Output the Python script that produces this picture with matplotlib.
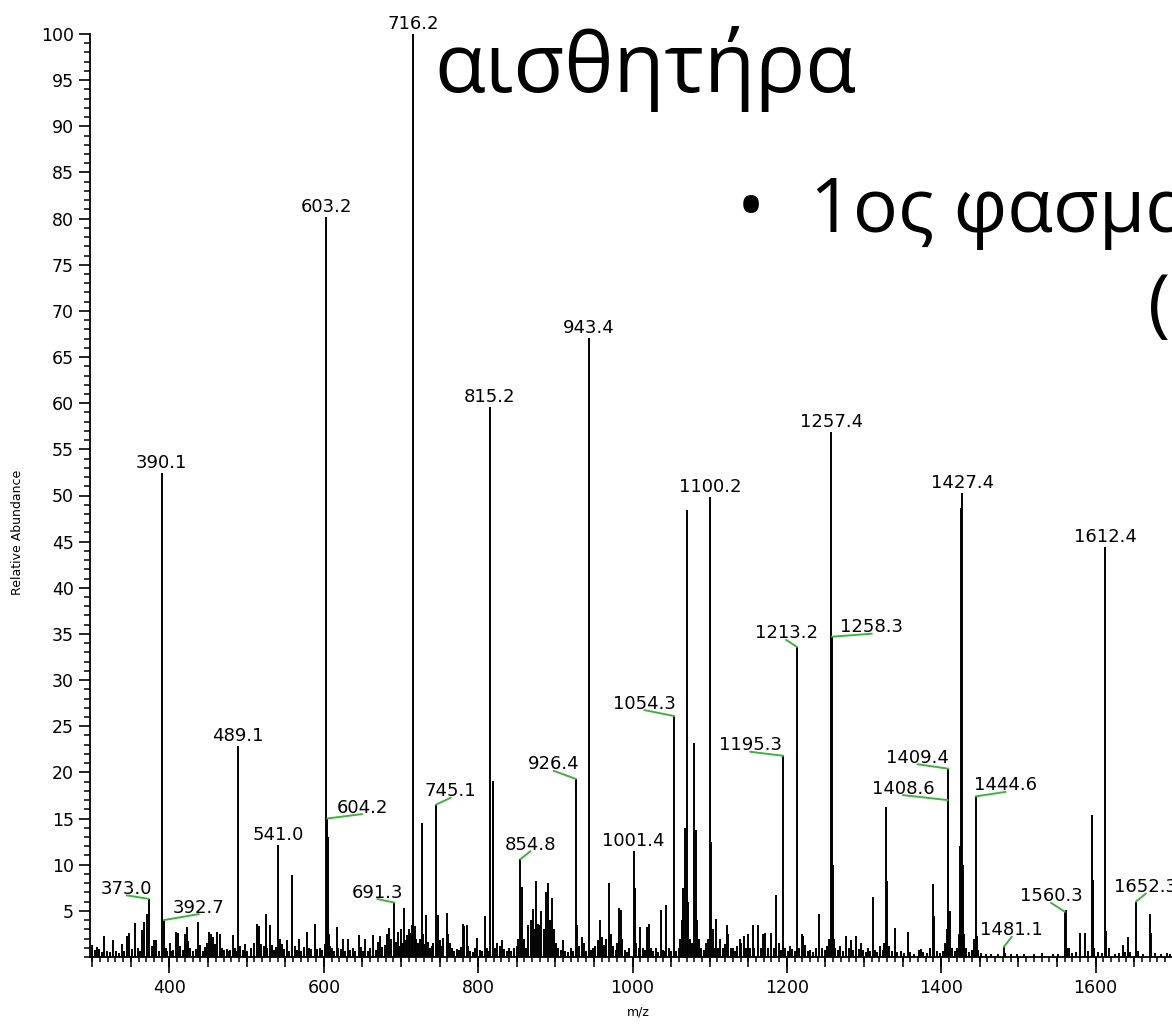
import matplotlib
matplotlib.use("Agg")
import matplotlib.pyplot as plt
from matplotlib.ticker import MultipleLocator, FixedLocator

# ---------------- data ----------------
labelled_mz = [373.0, 390.1, 392.7, 489.1, 541.0, 603.2, 604.2, 691.3, 716.2, 745.1,
               815.2, 854.8, 926.4, 943.4, 1001.4, 1054.3, 1100.2, 1195.3, 1213.2,
               1257.4, 1258.3, 1408.6, 1409.4, 1427.4, 1444.6, 1481.1, 1560.3,
               1612.4, 1652.3]
labelled_int = [6.3, 52.4, 4.0, 22.9, 12.1, 80.2, 15.0, 5.9, 100.0, 16.5,
                59.6, 10.6, 19.3, 67.1, 11.5, 26.1, 49.8, 21.8, 33.6,
                56.9, 34.7, 17.0, 20.4, 50.3, 17.4, 1.1, 4.9,
                44.4, 6.0]

other_mz = [300, 303, 305.7, 309, 312, 315.5, 319, 323, 327, 331, 334, 338, 341, 344.5,
            347.5, 351, 355.7, 359, 362, 364, 367, 371, 377, 380, 383, 386, 395, 397,
            400.6, 403, 405, 408, 411.4, 414, 417, 420, 423, 424.5, 427, 430, 434, 437,
            440, 443, 446, 448, 451.6, 454, 456.8, 459, 461, 465, 468, 471, 474, 477,
            479, 482, 485, 487, 492, 495, 498,
            501, 505, 509, 513, 516.5, 519, 522, 524.6, 527, 530, 533, 536, 538, 543,
            546, 549, 552, 555, 559, 562, 565, 568, 571, 574, 578, 581, 584, 588.5,
            591, 595, 598, 601,
            603.8, 604.8, 605.5, 606.5, 608, 611, 613, 616.6, 619, 622, 625, 628, 631,
            634, 638, 641, 645, 648, 651, 654, 657, 660, 664, 667, 670, 673, 676, 679,
            682, 684, 687, 693, 696, 698, 700,
            702, 704, 706, 708, 710, 712, 714, 718, 720, 722, 724, 727.5, 729, 731,
            733, 735, 737, 740, 742, 748.4, 750, 752, 755, 759, 761, 763, 766, 769,
            772, 775, 778, 780.7, 782, 785, 787, 790, 793, 796, 799, 802,
            805, 809, 811, 813, 819, 822, 825, 828, 831, 834, 837, 840, 843, 847, 850,
            852, 857, 859, 862, 865, 868, 871, 873, 875, 877, 880, 882, 885, 888, 891,
            893, 896, 898, 901, 904, 907, 910, 913, 916, 920, 923,
            928, 931, 934, 937, 940, 946, 949, 952, 955, 958, 960, 963, 966, 969, 972,
            975, 978, 980, 982.5, 985, 987, 990, 993, 996, 1003, 1005, 1008,
            1010, 1013, 1016, 1019, 1021, 1024, 1027, 1030, 1033, 1036.5, 1039, 1042,
            1044, 1047, 1050, 1057, 1060, 1062, 1064, 1066, 1068, 1070, 1072, 1074,
            1077, 1080, 1082, 1084, 1086, 1089, 1092, 1095, 1098, 1102, 1104, 1106,
            1108, 1111, 1114, 1117, 1120, 1122, 1124, 1127, 1130, 1133, 1136, 1139,
            1141, 1144, 1147, 1150, 1152, 1156, 1158, 1162, 1166, 1169, 1171.7, 1175,
            1180, 1183, 1186, 1190, 1193, 1198,
            1201, 1204, 1207, 1210, 1216, 1219, 1221, 1224, 1227, 1230, 1234, 1238,
            1242, 1245, 1249, 1252, 1255, 1259.5, 1261, 1263, 1266, 1269, 1273, 1277,
            1280, 1283, 1286, 1290, 1293, 1296, 1299,
            1302, 1305, 1308, 1311, 1314, 1317, 1321, 1324, 1326, 1328.5, 1330, 1332,
            1336, 1340, 1343, 1348, 1352, 1357, 1360, 1365, 1371, 1374, 1377, 1381,
            1386, 1389, 1391, 1394, 1398,
            1402, 1405, 1407, 1411, 1414, 1418, 1421, 1423, 1424.5, 1425.5, 1428.5,
            1430, 1432, 1436, 1440, 1442, 1446, 1448, 1452, 1458, 1465, 1473, 1483,
            1490, 1498,
            1507, 1520, 1531, 1545, 1552, 1561.5, 1563, 1566, 1570, 1575, 1580, 1586,
            1590, 1595, 1596.5, 1598, 1603, 1608, 1614, 1617, 1625, 1631, 1635, 1638,
            1642, 1645, 1655, 1662, 1670.6, 1672, 1677, 1685, 1692, 1697]
other_int = [1.3, 0.8, 1.1, 0.9, 0.5, 2.3, 0.6, 0.5, 1.8, 0.7, 0.4, 1.4, 0.6, 2.3,
             2.6, 0.9, 3.7, 1.0, 0.6, 2.9, 3.8, 4.7, 1.2, 1.8, 1.8, 0.7, 1.0, 0.6,
             1.5, 0.6, 0.8, 2.7, 2.6, 1.2, 0.8, 2.5, 3.2, 1.7, 1.0, 0.6, 0.9, 3.8,
             1.3, 0.7, 1.1, 1.5, 2.7, 2.5, 2.2, 1.4, 2.7, 2.5, 1.0, 0.8, 0.9, 0.7,
             0.8, 2.4, 1.0, 0.6, 1.2, 0.8, 1.4,
             0.7, 1.0, 1.5, 3.6, 3.4, 1.4, 1.2, 4.7, 1.0, 3.5, 1.3, 0.8, 1.1, 2.0,
             1.4, 0.9, 1.8, 0.7, 8.9, 1.2, 0.8, 1.9, 0.7, 1.1, 2.7, 1.0, 0.9, 3.6,
             0.9, 1.0, 0.8, 1.4,
             14.0, 13.0, 5.0, 2.5, 1.2, 1.0, 0.6, 3.2, 1.0, 0.9, 1.9, 0.7, 1.9,
             0.8, 1.0, 0.6, 2.4, 1.1, 0.6, 1.9, 0.7, 1.0, 2.4, 0.8, 1.6, 2.3, 1.1, 1.3,
             2.5, 3.1, 1.9, 1.6, 2.7, 1.2, 3.0,
             1.5, 5.3, 1.8, 2.4, 3.0, 2.6, 3.5, 3.4, 2.0, 1.5, 2.0, 14.5, 2.5, 1.4,
             4.6, 1.6, 1.0, 1.2, 1.5, 4.6, 1.8, 1.2, 2.1, 4.8, 2.5, 1.5, 1.0, 0.6,
             0.9, 0.8, 1.1, 3.6, 3.4, 3.5, 1.2, 0.7, 0.5, 1.0, 2.1, 0.8,
             0.6, 4.4, 1.0, 0.6, 19.1, 1.0, 1.5, 1.2, 1.8, 0.9, 0.6, 1.0, 0.7, 1.0, 1.2,
             2.0, 7.6, 2.0, 1.0, 3.5, 4.0, 5.2, 3.0, 8.2, 3.6, 3.5, 5.0, 3.0, 7.0, 8.0,
             4.0, 6.4, 3.0, 1.5, 1.0, 0.8, 1.8, 0.7, 0.5, 1.0, 0.6,
             3.5, 1.2, 2.2, 1.5, 0.6, 0.8, 1.0, 1.2, 1.8, 4.0, 2.2, 1.3, 2.0, 8.0, 2.5,
             1.2, 0.8, 1.5, 5.3, 5.1, 2.0, 0.8, 0.5, 1.0, 7.5, 1.5, 1.0,
             3.2, 1.0, 0.8, 3.2, 3.6, 1.0, 0.6, 1.0, 0.5, 5.1, 0.8, 0.6,
             5.6, 1.0, 0.6, 0.7, 1.0, 2.0, 4.0, 7.5, 14.0, 48.4, 6.0, 2.0,
             1.5, 23.2, 13.8, 4.0, 2.0, 1.0, 0.8, 1.5, 2.0, 12.5, 3.0, 1.0,
             4.1, 1.0, 2.0, 1.0, 1.4, 3.5, 2.5, 1.0, 1.0, 0.6, 1.2, 2.0,
             1.5, 2.3, 1.0, 2.5, 1.0, 3.5, 1.0, 3.5, 1.0, 2.5, 2.6, 1.0,
             2.6, 1.0, 6.7, 1.5, 0.8, 1.0,
             0.6, 1.2, 0.9, 0.6, 1.0, 2.5, 2.3, 1.3, 0.6, 0.8, 0.5, 1.0,
             4.7, 1.0, 0.8, 1.2, 2.0, 10.0, 2.0, 1.0, 0.8, 1.2, 0.6, 2.3,
             1.0, 1.8, 0.8, 2.3, 0.9, 1.5, 0.8,
             0.5, 1.0, 0.7, 6.5, 0.8, 0.5, 1.2, 0.8, 1.5, 16.2, 8.2, 1.2,
             0.6, 3.1, 0.5, 0.6, 0.4, 2.7, 0.5, 0.3, 0.8, 0.9, 0.5, 0.4,
             1.0, 7.9, 4.4, 0.6, 0.4,
             0.7, 1.5, 3.0, 5.0, 1.0, 0.6, 1.0, 2.5, 12.0, 48.6, 10.0,
             2.5, 1.0, 0.5, 0.8, 2.0, 2.3, 0.8, 0.4, 0.3, 0.3, 0.3, 0.4,
             0.3, 0.3,
             0.3, 0.3, 0.4, 0.3, 0.3, 5.1, 1.0, 1.0, 0.4, 0.5, 2.6, 2.6,
             0.6, 15.4, 8.3, 1.0, 0.5, 0.4, 2.8, 1.0, 0.3, 0.4, 1.3, 0.5,
             2.2, 0.5, 0.6, 0.3, 4.7, 2.6, 0.4, 0.3, 0.4, 0.3]

y_ticks = list(range(5, 101, 5))
x_label = "m/z"
y_label = "Relative Abundance"
title_text = "αισθητήρα"
bullet_text = "1ος φασμα"

# ---------------- layout ----------------
W, H = 1172, 1028
fig = plt.figure(figsize=(W / 100, H / 100), dpi=100)
fig.patch.set_facecolor("white")

def fx(px):
    return px / W

def fy(py):
    return 1 - py / H

XMIN, XMAX = 297, 1710
PX_PER_UNIT = 0.7717
ax_left = 90
ax_bottom = 957
ax_top = 34
ax = fig.add_axes([fx(ax_left), fy(ax_bottom),
                   (XMAX - XMIN) * PX_PER_UNIT / W, (ax_bottom - ax_top) / H])
ax.set_xlim(XMIN, XMAX)
ax.set_ylim(0, 100)
for s in ("top", "right"):
    ax.spines[s].set_visible(False)
for s in ("left", "bottom"):
    ax.spines[s].set_linewidth(1.3)
    ax.spines[s].set_color("black")
ax.patch.set_alpha(0)

# peaks
ax.vlines(other_mz, 0, other_int, color="black", lw=1.4, zorder=2)
ax.vlines(labelled_mz, 0, labelled_int, color="black", lw=1.4, zorder=2)

# label placement: (dx px, baseline height above peak top px) for labels with a green leader
leader = {
    373.0: (-22, 5), 392.7: (35, 7.5), 604.2: (35, 6), 691.3: (-17, 5),
    745.1: (15, 8.5), 854.8: (10, 9.5), 926.4: (-22, 9.5), 1054.3: (-30, 7.5),
    1195.3: (-33, 5.5), 1213.2: (-11, 8.5), 1258.3: (40, 4.5), 1408.6: (-45, 6.5),
    1409.4: (-31, 6), 1444.6: (30, 6), 1481.1: (8, 11.5), 1560.3: (-14, 10.5),
    1652.3: (10, 9.5),
}
PT = 0.72  # points per pixel at 100 dpi
lab_font = dict(fontsize=13, family="DejaVu Sans", color="black")
green = "#3cb43c"
for m, h in zip(labelled_mz, labelled_int):
    txt = f"{m:.1f}"
    if m in leader:
        dx, dy = leader[m]
        ax.annotate(txt, xy=(m, h), xytext=(dx * PT, dy * PT), textcoords="offset points",
                    ha="center", va="baseline", annotation_clip=False, **lab_font)
        ax.annotate("", xy=(m, h), xytext=(dx * PT, (dy - 1.5) * PT),
                    textcoords="offset points", annotation_clip=False,
                    arrowprops=dict(arrowstyle="-", color=green, lw=1.4,
                                    shrinkA=0, shrinkB=0))
    else:
        ax.annotate(txt, xy=(m, h), xytext=(0, 5 * PT), textcoords="offset points",
                    ha="center", va="baseline", annotation_clip=False, **lab_font)

# ticks
ax.yaxis.set_major_locator(FixedLocator(y_ticks))
ax.yaxis.set_minor_locator(MultipleLocator(1))
ax.tick_params(axis="y", which="major", direction="out", length=11 * PT, width=1.2,
               pad=5 * PT, labelsize=12.5)
ax.tick_params(axis="y", which="minor", direction="out", length=6 * PT, width=1.1)
ax.xaxis.set_major_locator(MultipleLocator(200))
ax.xaxis.set_minor_locator(MultipleLocator(10))
ax.tick_params(axis="x", which="major", direction="out", length=16 * PT, width=1.2,
               pad=6 * PT, labelsize=12.5)
ax.tick_params(axis="x", which="minor", direction="out", length=5 * PT, width=1.1)
ax.xaxis.set_major_formatter(lambda v, p: f"{v:.0f}")
ax.yaxis.set_major_formatter(lambda v, p: f"{v:.0f}")
for lab in ax.get_xticklabels() + ax.get_yticklabels():
    lab.set_family("DejaVu Sans")

sec = ax.secondary_xaxis("bottom")
sec.xaxis.set_major_locator(MultipleLocator(50))
sec.xaxis.set_minor_locator(MultipleLocator(1000))
sec.tick_params(axis="x", which="major", direction="out", length=10 * PT, width=1.1,
                labelbottom=False)
sec.tick_params(axis="x", which="minor", length=0)
sec.spines["bottom"].set_visible(False)

# axis titles
fig.text(fx(18), fy(532), y_label, rotation=90, ha="center", va="center",
         fontsize=9, family="DejaVu Sans")
fig.text(fx(638), fy(1012), x_label, ha="center", va="center",
         fontsize=9, family="DejaVu Sans")

# slide text overlay
greek = ["Open Sans", "DejaVu Sans"]
fig.text(fx(434), fy(92), title_text, fontsize=60, family=greek, ha="left",
         va="baseline", color="black")
fig.text(fx(737), fy(232), "•", fontsize=54, family=greek, ha="left",
         va="baseline", color="black")
fig.text(fx(810), fy(232), bullet_text, fontsize=54, family=greek, ha="left",
         va="baseline", color="black")
fig.text(fx(1148), fy(328), "(", fontsize=54, family=greek, ha="left",
         va="baseline", color="black")

fig.savefig("out.png", dpi=100, facecolor="white")
